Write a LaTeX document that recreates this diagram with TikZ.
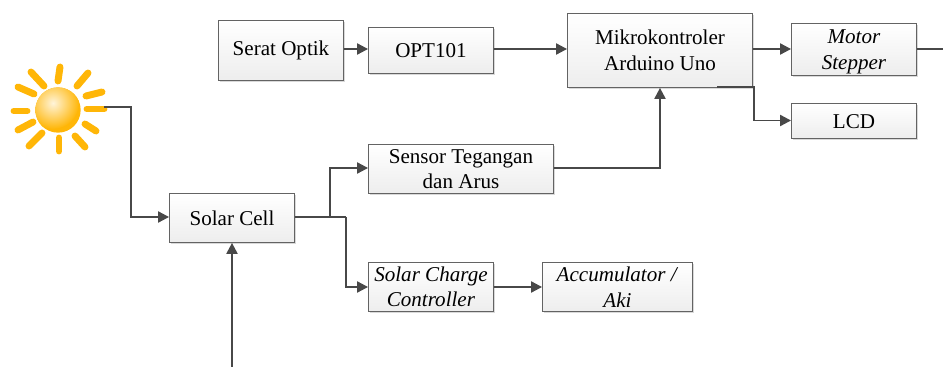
\documentclass[tikz,border=0pt]{standalone}
\usepackage{fontspec}
\setmainfont{Liberation Serif}
\usetikzlibrary{arrows.meta,shadows,positioning}
\definecolor{ln}{HTML}{484848}
\definecolor{sun}{HTML}{FFB607}
\tikzset{
 x=0.75pt,y=-0.75pt,
 blockbox/.style={draw=ln!85,line width=0.7pt,top color=white,bottom color=black!7,anchor=north west,align=center,inner sep=0pt,font=\fontsize{15.8pt}{19.2pt}\selectfont,
   drop shadow={shadow xshift=1.5pt,shadow yshift=-1.5pt,fill=black!15,opacity=1}},
 conn/.style={draw=ln,line width=1.1pt},
 arr/.style={conn,-{Triangle[length=8.2pt,width=8.4pt]}},
 ray/.style={draw=sun,line width=5.2pt,line cap=round},
}
\begin{document}
\begin{tikzpicture}
\useasboundingbox (0,0) rectangle (943,367);
\node[blockbox,minimum width=93.75pt,minimum height=45pt] (serat) at (218,20) {Serat Optik};
\node[blockbox,minimum width=93.75pt,minimum height=34.5pt] (opt) at (368,27) {OPT101};
\node[blockbox,minimum width=138.75pt,minimum height=55.5pt] (mik) at (567,13) {Mikrokontroler\\Arduino Uno};
\node[blockbox,minimum width=93.75pt,minimum height=39pt] (mot) at (791,23) {\textit{Motor}\\\smash{\textit{Stepper}}};
\node[blockbox,minimum width=93.75pt,minimum height=26.25pt] (lcd) at (791,103) {\rule{0pt}{12pt}LCD};
\node[blockbox,minimum width=138.75pt,minimum height=36.75pt] (sen) at (368,144) {Sensor Tegangan\\dan Arus};
\node[blockbox,minimum width=93.75pt,minimum height=36.75pt] (cell) at (169,193) {Solar Cell};
\node[blockbox,minimum width=93.75pt,minimum height=36.75pt] (scc) at (368,262) {\textit{Solar Charge}\\\textit{Controller}};
\node[blockbox,minimum width=112.5pt,minimum height=36.75pt] (acc) at (542,262) {\textit{Accumulator /}\\\textit{Aki}};
% sun
\foreach \a/\b/\c/\d in {14/111/27/111, 18/130/33/122, 29/146/42/133, 59/138/59/151, 75/136/85/147, 85/124/96/131, 87/109/104/109, 86/96/102/92, 77/86/88/73, 58/81/60/67, 44/86/31/72, 34/94/18/87}
  \draw[ray] (\a,\b) -- (\c,\d);
\node[circle,minimum size=34pt,inner sep=0pt,fill=sun] (sunc) at (58,110) {};
\begin{scope}
\clip (58,110) circle (22.6);
\shade[inner color=white!85!sun,outer color=sun] (53,103) circle (26);
\end{scope}
\coordinate (sunr) at (104,107);
\coordinate (bot) at (232,367);
\coordinate (stub) at (943,49);
\coordinate (j1) at (330,217);
\coordinate (mbot) at (717,87);
% connectors
\draw[arr] (serat.east |- 0,49) -- (opt.west |- 0,49);
\draw[arr] (opt.east |- 0,49) -- (mik.west |- 0,49);
\draw[arr] (mik.east |- 0,49) -- (mot.west |- 0,49);
\draw[conn] (mot.east |- 0,49) -- (stub);
\draw[arr] (mbot) -- (754,87) -- (754,120.5) -- (lcd.west |- 0,120.5);
\draw[arr] (sen.east |- 0,168) -- (660,168) -- (mik.south -| 660,0);
\draw[arr] (sunr) -- (131,107) -- (131,217) -- (cell.west |- 0,217);
\draw[arr] (bot) -- (cell.south -| 232,0);
\draw[conn] (cell.east |- 0,217) -- (346,217);
\draw[arr] (j1) -- (330,168) -- (sen.west |- 0,168);
\draw[arr] (346,217) -- (346,287) -- (scc.west |- 0,287);
\draw[arr] (scc.east |- 0,287) -- (acc.west |- 0,287);
\end{tikzpicture}
\end{document}
